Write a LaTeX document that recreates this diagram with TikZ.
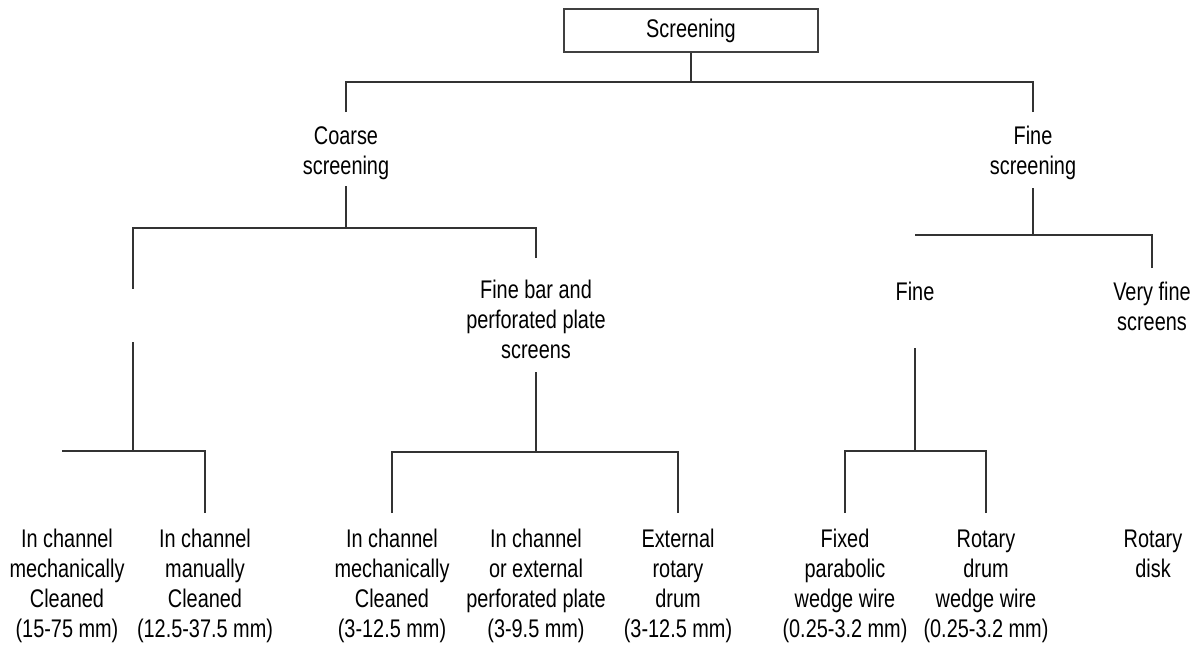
\documentclass[tikz,border=0pt]{standalone}
\usepackage{fontspec}
\setmainfont{Liberation Sans}[FakeStretch=0.78]
\begin{document}
\begin{tikzpicture}[x=1pt,y=1pt,
  conn/.style={draw=black!80,line width=1.2pt},
  lbl/.style={align=center,inner sep=0pt,anchor=north,font=\fontsize{25.5}{30}\selectfont},
  topbox/.style={draw=black!75,line width=1.2pt,minimum width=254pt,minimum height=43pt,inner sep=0pt,font=\fontsize{25.5}{30}\selectfont},
  gapnode/.style={inner sep=0pt,minimum width=0pt,minimum height=53pt}]
\useasboundingbox (0,0) rectangle (1196,-646);
% nodes
\node[topbox] (top) at (691,-30.5) {Screening};
\node[lbl] (coarse) at (346,-123) {\strut Coarse\\screening\strut};
\node[lbl] (finescr) at (1033,-123) {\strut Fine\\screening\strut};
\node[gapnode] (gapL) at (133,-315.5) {};
\node[lbl] (finebar) at (536,-277) {\strut Fine bar and\\perforated plate\\screens\strut};
\node[lbl] (fine) at (915,-279) {\strut Fine\strut};
\node[lbl] (veryfine) at (1152,-279) {\strut Very fine\\screens\strut};
\node[lbl] (c1) at (67,-526) {\strut In channel\\mechanically\\Cleaned\\(15-75 mm)\strut};
\node[lbl] (c2) at (205,-526) {\strut In channel\\manually\\Cleaned\\(12.5-37.5 mm)\strut};
\node[lbl] (c3) at (392,-526) {\strut In channel\\mechanically\\Cleaned\\(3-12.5 mm)\strut};
\node[lbl] (c4) at (536,-526) {\strut In channel\\or external\\perforated plate\\(3-9.5 mm)\strut};
\node[lbl] (c5) at (678,-526) {\strut External\\rotary\\drum\\(3-12.5 mm)\strut};
\node[lbl] (c6) at (845,-526) {\strut Fixed\\parabolic\\wedge wire\\(0.25-3.2 mm)\strut};
\node[lbl] (c7) at (986,-526) {\strut Rotary\\drum\\wedge wire\\(0.25-3.2 mm)\strut};
\node[lbl] (c8) at (1153,-526) {\strut Rotary\\disk\strut};
% junctions
\coordinate (j0) at (691,-82);
\coordinate (jc) at (346,-228);
\coordinate (jf) at (1033,-235);
\coordinate (jfL) at (915,-235);
\coordinate (jl) at (133,-451);
\coordinate (jlL) at (62,-451);
\coordinate (jm) at (536,-452);
\coordinate (jr) at (915,-451);
% level 1
\draw[conn] (top.south) -- (j0);
\draw[conn,shorten <=11pt] (coarse.north) |- (j0);
\draw[conn,shorten <=11pt] (finescr.north) |- (j0);
% coarse branch
\draw[conn,shorten <=3pt] (coarse.south) -- (jc);
\draw[conn] (gapL.north) |- (jc);
\draw[conn,shorten <=19pt] (finebar.north) |- (jc);
% fine branch
\draw[conn,shorten <=5pt] (finescr.south) -- (jf);
\draw[conn] (jf) -- (jfL);
\draw[conn,shorten <=11pt] (veryfine.north) |- (jf);
% left group
\draw[conn] (gapL.south) -- (jl);
\draw[conn] (jl) -- (jlL);
\draw[conn,shorten <=13pt] (c2.north) |- (jl);
% middle group
\draw[conn,shorten <=5pt] (finebar.south) -- (jm);
\draw[conn,shorten <=13pt] (c3.north) |- (jm);
\draw[conn,shorten <=13pt] (c5.north) |- (jm);
% fine group
\draw[conn,shorten <=39pt] (fine.south) -- (jr);
\draw[conn,shorten <=13pt] (c6.north) |- (jr);
\draw[conn,shorten <=13pt] (c7.north) |- (jr);
\end{tikzpicture}
\end{document}
